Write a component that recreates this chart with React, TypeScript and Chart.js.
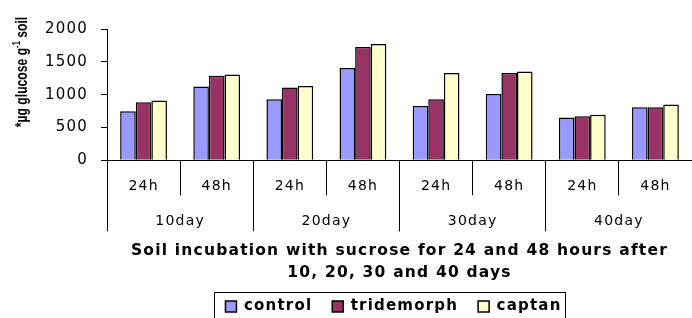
import { useEffect, useRef } from 'react';
import { Chart, registerables } from 'chart.js';

Chart.register(...registerables);

const dayLabels = ['10day', '20day', '30day', '40day'];
const hourLabels = ['24h', '48h'];
const categories = dayLabels.flatMap(() => hourLabels);

const controlValues = [748, 1125, 931, 1405, 829, 1008, 652, 809];
const tridemorphValues = [885, 1287, 1110, 1725, 931, 1328, 672, 809];
const captanValues = [911, 1308, 1130, 1771, 1328, 1354, 692, 850];

const seriesNames = ['control', 'tridemorph', 'captan'];
const seriesColors = ['#9999FF', '#993366', '#FFFFCC'];

const yTitleMain = '*µg glucose g';
const yTitleSup = '-1';
const yTitleEnd = ' soil';
const xTitleLines = [
  'Soil incubation with sucrose for 24 and 48 hours after',
  '10, 20, 30 and 40 days',
];

const FONT = '"DejaVu Sans", Verdana, sans-serif';
const SPACING = '1.2px';

const spacingPlugin = {
  id: 'letterSpacing',
  beforeUpdate(chart: any) {
    (chart.ctx as any).letterSpacing = SPACING;
  },
  beforeDraw(chart: any) {
    (chart.ctx as any).letterSpacing = SPACING;
  },
};

const legendShiftPlugin = {
  id: 'legendShift',
  afterLayout(chart: any) {
    const lg = chart.legend;
    if (lg) {
      lg.left -= 6;
      lg.right -= 6;
    }
  },
};

const yTitlePlugin = {
  id: 'yTitleManual',
  afterDraw(chart: any) {
    const ctx = chart.ctx as CanvasRenderingContext2D;
    ctx.save();
    (ctx as any).letterSpacing = '0px';
    ctx.translate(22.5, 72);
    ctx.rotate(-Math.PI / 2);
    ctx.scale(0.76, 1);
    const f = 'bold 16px "Liberation Sans", Arial, sans-serif';
    const fs = 'bold 10px "Liberation Sans", Arial, sans-serif';
    ctx.font = f;
    const w1 = ctx.measureText(yTitleMain).width;
    const w3 = ctx.measureText(yTitleEnd).width;
    ctx.font = fs;
    const w2 = ctx.measureText(yTitleSup).width;
    const total = w1 + w2 + w3;
    let x = -total / 2;
    ctx.textBaseline = 'middle';
    ctx.textAlign = 'left';
    ctx.fillStyle = '#000';
    ctx.font = f;
    ctx.fillText(yTitleMain, x, 0);
    x += w1;
    ctx.font = fs;
    ctx.fillText(yTitleSup, x, -5);
    x += w2;
    ctx.font = f;
    ctx.fillText(yTitleEnd, x, 0);
    ctx.restore();
  },
};

const legendBorderPlugin = {
  id: 'legendBorder',
  afterDraw(chart: any) {
    const lg = chart.legend;
    if (!lg || !lg.legendHitBoxes || !lg.legendHitBoxes.length) return;
    const hb = lg.legendHitBoxes;
    const first = hb[0];
    const last = hb[hb.length - 1];
    const cy = first.top + first.height / 2;
    const ctx = chart.ctx as CanvasRenderingContext2D;
    ctx.save();
    ctx.strokeStyle = '#000';
    ctx.lineWidth = 1;
    const left = Math.round(first.left - 11) + 0.5;
    const right = Math.round(last.left + last.width + 3) + 0.5;
    const top = Math.round(cy - 15) + 0.5;
    ctx.strokeRect(left, top, right - left, 30);
    ctx.restore();
  },
};

export default function App() {
  const ref = useRef<HTMLCanvasElement>(null);
  useEffect(() => {
    const values = [controlValues, tridemorphValues, captanValues];
    const chart = new Chart(ref.current as HTMLCanvasElement, {
      type: 'bar',
      data: {
        labels: categories,
        datasets: seriesNames.map((name, i) => ({
          label: name,
          data: values[i],
          backgroundColor: seriesColors[i],
          borderColor: '#000',
          borderWidth: 1.5,
          categoryPercentage: 0.64,
          barPercentage: 1,
        })),
      },
      options: {
        responsive: false,
        animation: false,
        devicePixelRatio: 1,
        layout: { padding: { left: 0, right: 0, top: 29, bottom: 0 } },
        plugins: {
          legend: {
            position: 'bottom',
            fullSize: false,
            labels: {
              boxWidth: 11,
              boxHeight: 11,
              padding: 20,
              color: '#000',
              font: { family: FONT, size: 15, weight: 'bold' },
            },
          },
          tooltip: { enabled: false },
        },
        scales: {
          x: {
            type: 'category',
            offset: true,
            grid: { offset: true, drawOnChartArea: false, tickLength: 35, color: '#000', lineWidth: 1 },
            border: { display: true, color: '#000', width: 1 },
            ticks: {
              padding: -18,
              autoSkip: false,
              maxRotation: 0,
              color: '#000',
              font: { family: FONT, size: 14, lineHeight: '18px' },
            },
            afterFit: (s: any) => {
              s.height = 35;
            },
          },
          x2: {
            type: 'category',
            labels: dayLabels,
            position: 'bottom',
            offset: true,
            grid: { offset: true, drawOnChartArea: false, tickLength: 36, color: '#000', lineWidth: 1 },
            border: { display: false },
            ticks: {
              padding: -19.3,
              autoSkip: false,
              maxRotation: 0,
              color: '#000',
              font: { family: FONT, size: 14, lineHeight: '18px' },
            },
            title: {
              display: true,
              text: xTitleLines,
              color: '#000',
              font: { family: FONT, size: 15.5, weight: 'bold', lineHeight: '22px' },
              padding: { top: 0, bottom: -5 },
            },
            afterFit: (s: any) => {
              s.height = 83.7;
            },
          },
          y: {
            min: 0,
            max: 2000,
            ticks: {
              stepSize: 500,
              padding: 13,
              color: '#000',
              font: { family: FONT, size: 15 },
              callback: (v: any) => String(v),
            },
            grid: { drawOnChartArea: false, tickLength: 6, color: '#000', lineWidth: 1 },
            border: { display: true, color: '#000', width: 1 },
            afterFit: (s: any) => {
              s.width = 107;
            },
          },
        },
      } as any,
      plugins: [spacingPlugin, legendShiftPlugin, yTitlePlugin, legendBorderPlugin],
    });
    return () => chart.destroy();
  }, []);
  return (
    <div style={{ position: 'fixed', left: 0, top: 0, width: 692, height: 324, background: '#fff' }}>
      <canvas ref={ref} width={692} height={324} style={{ display: 'block', width: 692, height: 324 }} />
    </div>
  );
}
